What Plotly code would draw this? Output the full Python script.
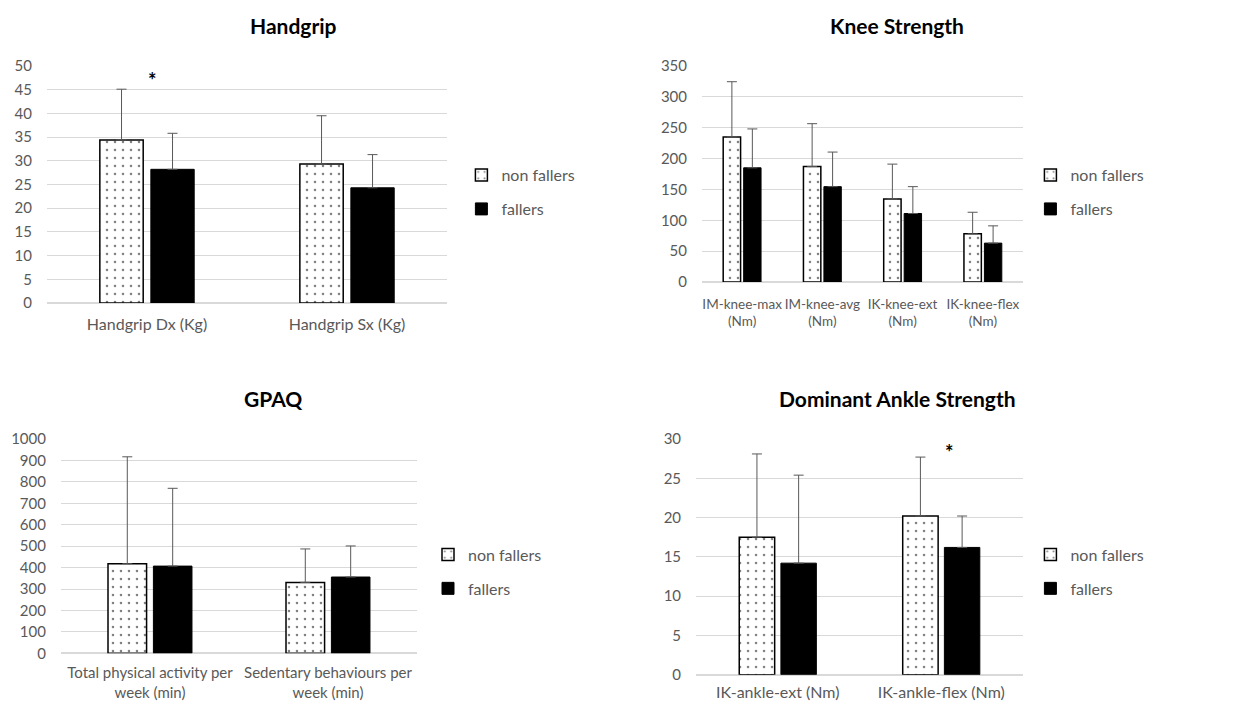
import plotly.graph_objects as go

# ---- data ----
group_names = ["non fallers", "fallers"]

handgrip_cats = ["Handgrip Dx (Kg)", "Handgrip Sx (Kg)"]
handgrip_non = [34.4, 29.3]
handgrip_non_sd = [10.7, 10.2]
handgrip_fall = [28.2, 24.3]
handgrip_fall_sd = [7.6, 7.0]

knee_cats = ["IM-knee-max<br>(Nm)", "IM-knee-avg<br>(Nm)", "IK-knee-ext<br>(Nm)", "IK-knee-flex<br>(Nm)"]
knee_non = [235, 187, 134.5, 78]
knee_non_sd = [89.5, 69.5, 56.5, 35]
knee_fall = [185, 154.5, 111, 63]
knee_fall_sd = [63, 56, 43.5, 28]

gpaq_cats = ["Total physical activity per<br>week (min)", "Sedentary behaviours per<br>week (min)"]
gpaq_non = [418, 331]
gpaq_non_sd = [499, 156]
gpaq_fall = [407, 356]
gpaq_fall_sd = [363, 145]

ankle_cats = ["IK-ankle-ext (Nm)", "IK-ankle-flex (Nm)"]
ankle_non = [17.5, 20.2]
ankle_non_sd = [10.6, 7.5]
ankle_fall = [14.2, 16.2]
ankle_fall_sd = [11.2, 4.0]

FONT = "Lato"
GRAY = "#595959"
GRID = "#d9d9d9"
W, H = 1237, 704

panels = [
    # (title, cats, non, non_sd, fall, fall_sd, yrange, dtick, x-domain, y-domain,
    #  legend pos, title centre px, category font size, category label standoff)
    ("Handgrip", handgrip_cats, handgrip_non, handgrip_non_sd, handgrip_fall, handgrip_fall_sd,
     [0, 50], 5, [0.038, 0.3614], [0.5696, 0.9063], (0.373, 0.727), (293, 25), 16, 10),
    ("Knee Strength", knee_cats, knee_non, knee_non_sd, knee_fall, knee_fall_sd,
     [0, 350], 50, [0.5675, 0.827], [0.5994, 0.9063], (0.833, 0.727), (897, 25), 13.5, 12),
    ("GPAQ", gpaq_cats, gpaq_non, gpaq_non_sd, gpaq_fall, gpaq_fall_sd,
     [0, 1000], 100, [0.0493, 0.3371], [0.072, 0.3764], (0.346, 0.188), (273, 398), 15, 9),
    ("Dominant Ankle Strength", ankle_cats, ankle_non, ankle_non_sd, ankle_fall, ankle_fall_sd,
     [0, 30], 5, [0.5627, 0.827], [0.0416, 0.3764], (0.833, 0.188), (897, 398), 16, 6),
]

fig = go.Figure()
layout = {}
annotations = []

for i, (title, cats, non, non_sd, fall, fall_sd, yr, dt, xd, yd, lpos, tpos, cfs, cso) in enumerate(panels):
    n = i + 1
    xa = "x" if n == 1 else f"x{n}"
    ya = "y" if n == 1 else f"y{n}"
    leg = "legend" if n == 1 else f"legend{n}"

    fig.add_trace(go.Bar(
        x=cats, y=non, name=group_names[0], xaxis=xa, yaxis=ya, legend=leg,
        legendgroup=f"a{n}",
        marker=dict(color="white", line=dict(color="black", width=1.5),
                    pattern=dict(shape=".", fgcolor="black", bgcolor="white",
                                 size=8, solidity=0.08)),
        error_y=dict(type="data", array=non_sd, arrayminus=[0] * len(non_sd),
                     symmetric=False, color=GRAY, thickness=1, width=5),
    ))
    fig.add_trace(go.Bar(
        x=cats, y=fall, name=group_names[1], xaxis=xa, yaxis=ya, legend=leg,
        legendgroup=f"b{n}",
        marker=dict(color="black", line=dict(color="black", width=1)),
        error_y=dict(type="data", array=fall_sd, arrayminus=[0] * len(fall_sd),
                     symmetric=False, color=GRAY, thickness=1, width=5),
    ))

    xkey = "xaxis" if n == 1 else f"xaxis{n}"
    ykey = "yaxis" if n == 1 else f"yaxis{n}"
    layout[xkey] = dict(domain=xd, anchor=ya, showgrid=False, showline=False,
                        ticks="", tickangle=0, automargin=False,
                        tickfont=dict(family=FONT, size=cfs, color=GRAY),
                        ticklabelstandoff=cso, fixedrange=True)
    layout[ykey] = dict(domain=yd, anchor=xa, range=yr, dtick=dt, showgrid=True,
                        gridcolor=GRID, gridwidth=1, zeroline=True, zerolinecolor=GRID,
                        zerolinewidth=1.5, showline=False, ticks="", automargin=False,
                        tickfont=dict(family=FONT, size=15, color=GRAY),
                        ticklabelstandoff=14, fixedrange=True)
    layout[leg] = dict(x=lpos[0], y=lpos[1], xanchor="left", yanchor="middle",
                       bgcolor="rgba(0,0,0,0)", traceorder="grouped", tracegroupgap=10,
                       font=dict(family=FONT, size=16, color=GRAY),
                       itemwidth=30)

    annotations.append(dict(
        text=f"<b>{title}</b>", xref="paper", yref="paper",
        x=tpos[0] / W, y=1 - tpos[1] / H,
        showarrow=False, font=dict(family=FONT, size=21, color="black"),
        xanchor="center", yanchor="middle"))

# significance markers
annotations.append(dict(text="<b>*</b>", x=handgrip_cats[0], y=47.0, xref="x", yref="y",
                        xshift=5, showarrow=False,
                        font=dict(family=FONT, size=20, color="black")))
annotations.append(dict(text="<b>*</b>", x=ankle_cats[1], y=28.4, xref="x4", yref="y4",
                        xshift=8, showarrow=False,
                        font=dict(family=FONT, size=20, color="black")))

fig.update_layout(
    width=W, height=H,
    margin=dict(l=0, r=0, t=0, b=0, autoexpand=False),
    paper_bgcolor="white", plot_bgcolor="white",
    barmode="group", bargap=0.49, bargroupgap=0.15,
    showlegend=True,
    annotations=annotations,
    **layout,
)

fig.write_html("out.html")
